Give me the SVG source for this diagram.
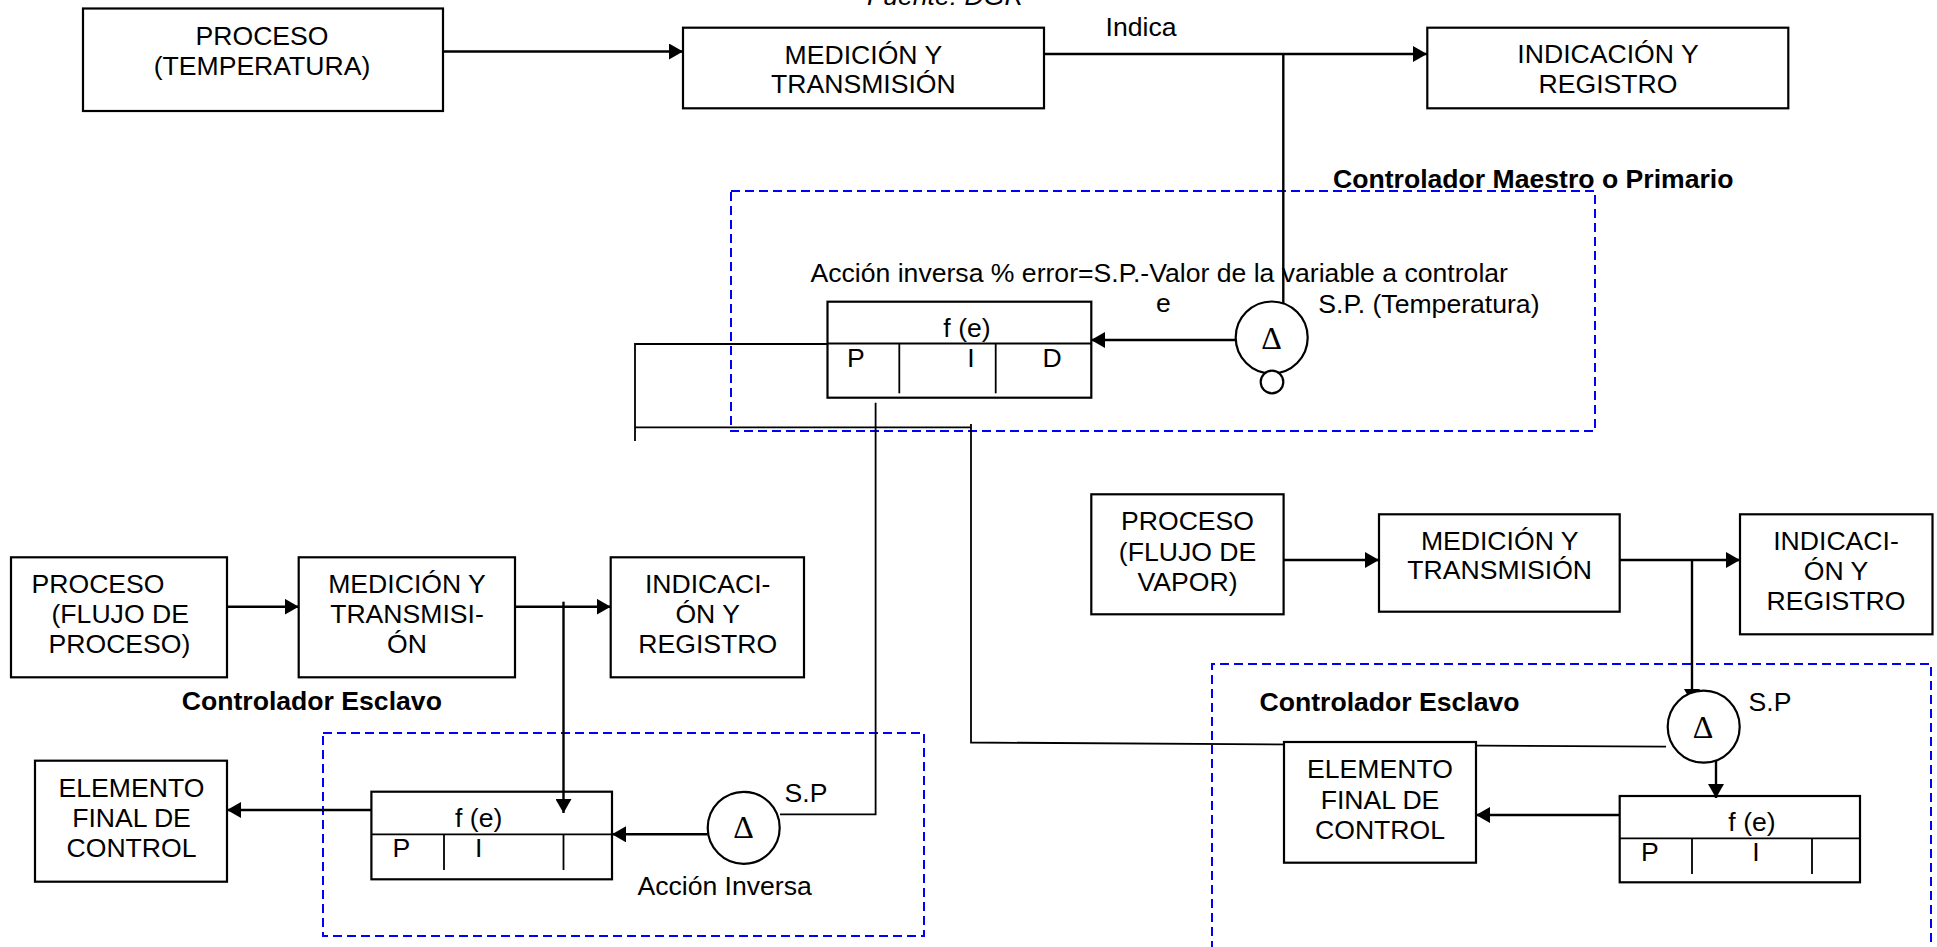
<svg xmlns="http://www.w3.org/2000/svg" width="1937" height="947" viewBox="0 0 1937 947">
<style>
.box{fill:#fff;stroke:#000;stroke-width:2.2}
.pid{fill:none;stroke:#000;stroke-width:2.2}
.div{stroke:#000;stroke-width:1.8;fill:none}
.ln{stroke:#000;stroke-width:2.4;fill:none}
.thin{stroke:#000;stroke-width:1.8;fill:none}
.arr{stroke:#000;stroke-width:2.4;fill:none;marker-end:url(#ah)}
.dash{fill:none;stroke:#0000ff;stroke-width:2;stroke-dasharray:9 5}
.circ{fill:#fff;stroke:#000;stroke-width:2.2}
text{font-family:"Liberation Sans",Arial,sans-serif;font-size:26.6px;fill:#000}
.c{text-anchor:middle}
.b{font-weight:bold}
.it{font-style:italic}
.delta{font-family:"Liberation Serif","Times New Roman",serif;font-size:32px;text-anchor:middle}
</style>
<defs>
<marker id="ah" markerUnits="userSpaceOnUse" markerWidth="16" markerHeight="16" refX="14" refY="8" orient="auto">
<path d="M0,0 L14,8 L0,16 z" fill="#000"/>
</marker>
</defs>
<rect x="0" y="0" width="1937" height="947" fill="#fff"/>

<text id="fuente" class="it" x="867" y="4.5">Fuente: DGR</text>

<g id="dashed-groups">
<rect id="master-frame" class="dash" x="731" y="191" width="864" height="240"/>
<rect id="slave-left-frame" class="dash" x="323" y="733" width="601" height="203"/>
<path id="slave-right-frame" class="dash" d="M1212,950 V664 H1931 V950"/>
</g>

<g id="connectors">
<line class="arr" x1="443" y1="51.5" x2="683" y2="51.5"/>
<line class="arr" x1="1044" y1="54" x2="1427" y2="54"/>
<line class="ln" x1="1283.3" y1="54" x2="1283.3" y2="303"/>
<line class="arr" x1="1236" y1="340" x2="1091" y2="340"/>
<polyline class="thin" points="828,344 635,344 635,441"/>
<polyline class="thin" points="635,427.3 971,427.3"/>
<polyline class="thin" points="971,424 971,742.5 1666,746.7"/>
<polyline class="thin" points="875.6,402.7 875.6,814.3 780,814.3"/>
<line class="arr" x1="227" y1="606.7" x2="298.7" y2="606.7"/>
<line class="arr" x1="515" y1="606.7" x2="610.7" y2="606.7"/>
<line class="arr" x1="563.5" y1="601.7" x2="563.5" y2="813"/>
<line class="arr" x1="707.7" y1="834.3" x2="612" y2="834.3"/>
<line class="arr" x1="371.4" y1="810" x2="227" y2="810"/>
<line class="arr" x1="1283.6" y1="560" x2="1379" y2="560"/>
<line class="arr" x1="1619.7" y1="560" x2="1740" y2="560"/>
<line class="arr" x1="1692" y1="560" x2="1692" y2="703"/>
<line class="arr" x1="1716" y1="755" x2="1716" y2="798"/>
<line class="arr" x1="1619.7" y1="815" x2="1476" y2="815"/>
</g>

<g id="proceso-temp">
<rect class="box" x="83" y="8.5" width="360" height="102.5"/>
<text class="c" x="262" y="45">PROCESO</text>
<text class="c" x="262" y="75">(TEMPERATURA)</text>
</g>
<g id="medicion-top">
<rect class="box" x="683" y="27.7" width="361" height="80.6"/>
<text class="c" x="863.4" y="64">MEDICIÓN Y</text>
<text class="c" x="863.4" y="93.3">TRANSMISIÓN</text>
</g>
<text id="indica" class="c" x="1141" y="35.5">Indica</text>
<g id="indicacion-top">
<rect class="box" x="1427.3" y="27.7" width="361" height="80.6"/>
<text class="c" x="1608" y="63.3">INDICACIÓN Y</text>
<text class="c" x="1608" y="93.3">REGISTRO</text>
</g>

<g id="master-controller">
<text class="b" x="1333" y="188">Controlador Maestro o Primario</text>
<text x="810.5" y="281.7">Acción inversa % error=S.P.-Valor de la variable a controlar</text>
<text x="1156" y="312">e</text>
<text x="1318.3" y="312.7">S.P. (Temperatura)</text>
</g>
<g id="master-pid">
<rect class="pid" x="827.5" y="301.7" width="263.8" height="96"/>
<line class="div" x1="827.5" y1="343.5" x2="1091.3" y2="343.5"/>
<line class="div" x1="899.3" y1="343.5" x2="899.3" y2="393.3"/>
<line class="div" x1="995.7" y1="343.5" x2="995.7" y2="393.3"/>
<text class="c" x="967" y="336.7">f (e)</text>
<text x="847" y="367.3">P</text>
<text class="c" x="971" y="367.3">I</text>
<text class="c" x="1052" y="367.3">D</text>
</g>
<g id="master-delta">
<circle class="circ" cx="1271.7" cy="337.5" r="36"/>
<text class="delta" x="1271.5" y="349.3">Δ</text>
<circle class="circ" cx="1272" cy="382" r="11.3" stroke-width="1.5"/>
</g>

<g id="proceso-flujo">
<rect class="box" x="11" y="557.3" width="216" height="120"/>
<text x="31.5" y="592.7">PROCESO</text>
<text x="51.5" y="623.3">(FLUJO DE</text>
<text x="48.5" y="653.3">PROCESO)</text>
</g>
<g id="medicion-left">
<rect class="box" x="298.7" y="557.3" width="216.3" height="120"/>
<text class="c" x="407" y="592.7">MEDICIÓN Y</text>
<text class="c" x="407" y="623.3">TRANSMISI-</text>
<text class="c" x="407" y="653.3">ÓN</text>
</g>
<g id="indicacion-left">
<rect class="box" x="610.7" y="557.3" width="193.3" height="120"/>
<text class="c" x="707.7" y="592.7">INDICACI-</text>
<text class="c" x="707.7" y="623.3">ÓN Y</text>
<text class="c" x="707.7" y="653.3">REGISTRO</text>
</g>
<text id="esclavo-left-label" class="b" x="181.8" y="710">Controlador Esclavo</text>
<g id="elemento-left">
<rect class="box" x="35" y="760.7" width="192" height="121"/>
<text class="c" x="131.5" y="796.7">ELEMENTO</text>
<text class="c" x="131.5" y="826.7">FINAL DE</text>
<text class="c" x="131.5" y="857">CONTROL</text>
</g>
<g id="slave-left-pid">
<rect class="pid" x="371.4" y="791.7" width="240.6" height="87.6"/>
<line class="div" x1="371.4" y1="834.3" x2="612" y2="834.3"/>
<line class="div" x1="444" y1="834.3" x2="444" y2="870"/>
<line class="div" x1="563.5" y1="834.3" x2="563.5" y2="870"/>
<text class="c" x="478.7" y="827">f (e)</text>
<text x="392.6" y="856.7">P</text>
<text class="c" x="478.7" y="856.7">I</text>
</g>
<g id="slave-left-delta">
<circle class="circ" cx="743.7" cy="827.8" r="36"/>
<text class="delta" x="743.6" y="838.3">Δ</text>
<text x="784.6" y="801.7">S.P</text>
<text x="637.4" y="895">Acción Inversa</text>
</g>

<g id="proceso-vapor">
<rect class="box" x="1091.3" y="494.3" width="192.3" height="120"/>
<text class="c" x="1187.5" y="530">PROCESO</text>
<text class="c" x="1187.5" y="560.7">(FLUJO DE</text>
<text class="c" x="1187.5" y="590.7">VAPOR)</text>
</g>
<g id="medicion-right">
<rect class="box" x="1379" y="514.3" width="240.7" height="97.4"/>
<text class="c" x="1499.7" y="550">MEDICIÓN Y</text>
<text class="c" x="1499.7" y="579.3">TRANSMISIÓN</text>
</g>
<g id="indicacion-right">
<rect class="box" x="1740" y="514.3" width="192.5" height="120"/>
<text class="c" x="1836" y="550">INDICACI-</text>
<text class="c" x="1836" y="580">ÓN Y</text>
<text class="c" x="1836" y="610">REGISTRO</text>
</g>
<text id="esclavo-right-label" class="b" x="1259.5" y="710.7">Controlador Esclavo</text>
<g id="elemento-right">
<rect class="box" x="1284" y="742" width="192" height="120.7"/>
<text class="c" x="1380" y="777.7">ELEMENTO</text>
<text class="c" x="1380" y="809">FINAL DE</text>
<text class="c" x="1380" y="839.3">CONTROL</text>
</g>
<g id="slave-right-delta">
<circle class="circ" cx="1703.7" cy="726.7" r="36" fill="none"/>
<text class="delta" x="1703" y="738.3">Δ</text>
<text x="1748.6" y="710.7">S.P</text>
</g>
<g id="slave-right-pid">
<rect class="pid" x="1619.7" y="796" width="240.3" height="86.3"/>
<line class="div" x1="1619.7" y1="838.3" x2="1860" y2="838.3"/>
<line class="div" x1="1692" y1="838.3" x2="1692" y2="874"/>
<line class="div" x1="1812" y1="838.3" x2="1812" y2="874"/>
<text class="c" x="1752" y="831">f (e)</text>
<text x="1641" y="861">P</text>
<text class="c" x="1756" y="861">I</text>
</g>
</svg>
